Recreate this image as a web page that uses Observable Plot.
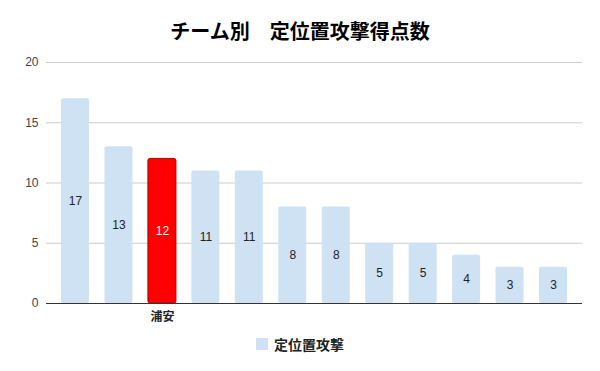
<!DOCTYPE html>
<html>
<head>
<meta charset="utf-8">
<script src="https://cdn.jsdelivr.net/npm/d3@7"></script>
<script src="https://cdn.jsdelivr.net/npm/@observablehq/plot@0.6"></script>
<style>
  body { margin: 0; background: #fff; font-family: "Liberation Sans", Arial, "Noto Sans CJK JP", sans-serif; }
  #wrap { width: 600px; height: 371px; position: relative; }
  #title { height: 50px; box-sizing: border-box; padding-top: 21px; text-align: center; font-size: 20px; font-weight: bold; color: #000; line-height: 22px; }
  #legend { display: flex; justify-content: center; align-items: center; height: 22px; font-size: 14px; font-weight: bold; color: #222; }
  #legend .sw { width: 12px; height: 12px; background: #cfe2f3; margin-right: 6px; }
</style>
</head>
<body>
<div id="wrap">
  <div id="title">チーム別　定位置攻撃得点数</div>
  <div id="chart"></div>
  <div id="legend"><div class="sw"></div><span>定位置攻撃</span></div>
</div>
<script>
const teams = ["t1", "t2", "浦安", "t4", "t5", "t6", "t7", "t8", "t9", "t10", "t11", "t12"];
const values = [17, 13, 12, 11, 11, 8, 8, 5, 5, 4, 3, 3];
const shownLabels = ["浦安"];
const highlight = "浦安";
const yTicks = [0, 5, 10, 15, 20];
const seriesName = "定位置攻撃";

const data = teams.map((t, i) => ({ team: t, value: values[i] }));

const chart = Plot.plot({
  width: 600,
  height: 283,
  marginTop: 12,
  marginBottom: 30,
  marginLeft: 46,
  marginRight: 18,
  style: { fontFamily: "'Liberation Sans', Arial, 'Noto Sans CJK JP', sans-serif", background: "#fff" },
  x: { domain: teams, paddingInner: 0.355, paddingOuter: 0.345, round: false, label: null },
  y: { domain: [0, 20], ticks: yTicks, label: null },
  marks: [
    Plot.gridY(yTicks, { stroke: "#cccccc", strokeOpacity: 1 }),
    Plot.axisY({ ticks: yTicks, tickSize: 0, tickPadding: 8, fontSize: 12, fill: "#444", label: null }),
    Plot.axisX({ tickSize: 0, tickPadding: 9, fontSize: 12, fontWeight: "bold", fill: "#222", label: null,
                 tickFormat: d => shownLabels.includes(d) ? d : "" }),
    Plot.barY(data, { x: "team", y: "value", rx: 2,
      fill: d => d.team === highlight ? "#ff0000" : "#cfe2f3",
      stroke: d => d.team === highlight ? "#b00000" : "none", strokeWidth: 1 }),
    Plot.text(data, { x: "team", y: d => d.value / 2, text: d => String(d.value), fontSize: 12,
      fill: d => d.team === highlight ? "#ffffff" : "#222" }),
    Plot.ruleY([0], { stroke: "#333", strokeWidth: 1 })
  ]
});
document.getElementById("chart").appendChild(chart);
</script>
</body>
</html>
